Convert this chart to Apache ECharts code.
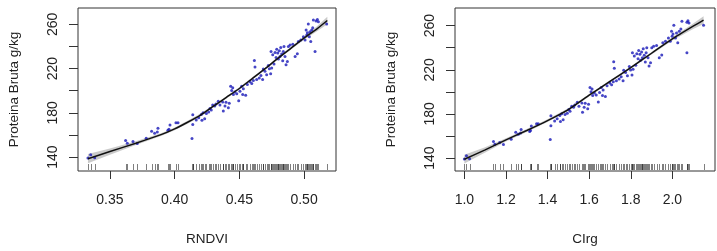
<!DOCTYPE html>
<html lang="pt">
<head>
  <meta charset="UTF-8">
  <title>Proteina Bruta vs RNDVI / CIrg</title>
  <style>
    html, body { margin: 0; padding: 0; background: #fff; }
    #chart { width: 717px; height: 251px; }
  </style>
  <script src="https://cdn.jsdelivr.net/npm/echarts@6/dist/echarts.min.js"></script>
</head>
<body>
<div id="chart"></div>
<script>
  // proteína bruta (g/kg) - mesmas amostras nos dois painéis
  const pb = [139.1,142.1,139.4,155.0,152.6,154.1,152.3,157.0,163.3,161.5,
    166.0,162.7,164.2,169.0,165.1,171.1,171.1,178.3,169.4,156.8,
    173.5,175.6,178.6,180.1,173.2,174.7,179.5,180.7,182.5,186.1,
    184.0,187.0,188.1,190.5,187.0,189.9,181.6,186.1,189.6,184.6,
    188.7,204.0,200.1,202.6,196.6,198.9,197.2,190.9,199.5,204.0,
    201.7,195.9,196.6,205.6,208.0,206.5,209.2,227.4,221.5,210.1,
    211.6,213.7,210.1,219.7,217.5,214.5,222.9,219.9,215.4,220.5,
    235.4,232.5,224.1,234.5,230.0,237.6,234.0,228.6,236.1,231.0,
    239.1,233.1,227.1,235.4,239.9,231.0,223.5,226.5,239.9,241.4,
    242.1,231.0,233.4,244.4,245.9,248.9,245.9,254.9,250.4,252.5,
    260.3,248.9,253.4,244.4,254.9,257.0,263.9,235.4,263.0,264.5,
    262.4,260.3]
  const rndvi = [0.3330,0.3351,0.3382,0.3621,0.3634,0.3678,0.3711,0.3780,0.3822,0.3845,
    0.3871,0.3866,0.3948,0.3964,0.3956,0.4010,0.4026,0.4140,0.4140,0.4134,
    0.4167,0.4186,0.4206,0.4220,0.4211,0.4232,0.4245,0.4263,0.4283,0.4310,
    0.4273,0.4294,0.4319,0.4337,0.4350,0.4371,0.4376,0.4389,0.4397,0.4415,
    0.4422,0.4433,0.4441,0.4449,0.4454,0.4466,0.4480,0.4495,0.4505,0.4518,
    0.4531,0.4549,0.4526,0.4562,0.4582,0.4596,0.4608,0.4616,0.4621,0.4634,
    0.4654,0.4667,0.4680,0.4685,0.4698,0.4711,0.4724,0.4732,0.4742,0.4750,
    0.4745,0.4758,0.4768,0.4776,0.4784,0.4789,0.4797,0.4802,0.4809,0.4814,
    0.4820,0.4827,0.4835,0.4840,0.4845,0.4853,0.4861,0.4871,0.4879,0.4892,
    0.4913,0.4931,0.4948,0.4956,0.4975,0.4995,0.5008,0.5016,0.5021,0.5026,
    0.5033,0.5041,0.5046,0.5052,0.5059,0.5067,0.5072,0.5085,0.5093,0.5103,
    0.5111,0.5175]
  const cirg = [1.000,1.010,1.025,1.140,1.147,1.170,1.188,1.225,1.247,1.259,
    1.273,1.270,1.314,1.322,1.318,1.347,1.355,1.416,1.416,1.413,
    1.434,1.446,1.459,1.468,1.462,1.475,1.484,1.495,1.508,1.525,
    1.502,1.516,1.531,1.543,1.551,1.565,1.568,1.576,1.581,1.593,
    1.597,1.604,1.609,1.614,1.617,1.625,1.634,1.644,1.650,1.658,
    1.667,1.678,1.664,1.686,1.699,1.708,1.716,1.718,1.721,1.731,
    1.744,1.754,1.763,1.766,1.775,1.784,1.793,1.799,1.806,1.811,
    1.808,1.817,1.824,1.829,1.835,1.838,1.844,1.847,1.852,1.856,
    1.860,1.865,1.870,1.874,1.877,1.883,1.888,1.895,1.901,1.910,
    1.924,1.937,1.949,1.954,1.967,1.981,1.990,1.996,1.999,2.003,
    2.007,2.015,2.020,2.026,2.033,2.041,2.046,2.070,2.070,2.075,
    2.080,2.150]

  // curva ajustada e meia largura do intervalo de confiança
  const fitRndvi = [0.333,0.35,0.37,0.39,0.40,0.41,0.42,0.43,0.44,0.45,0.46,0.47,0.48,0.49,0.50,0.51,0.518]
  const fitPbR   = [138.5,145,152.5,160.5,165.5,171.5,178,186,194,202,211,220,229.5,238.5,247.5,256,263.5]
  const seR      = [4.2,2.8,1.7,1.3,1.3,1.4,1.3,1.1,1.1,1.1,1.1,1.1,1.1,1.2,1.5,2.3,3.3]
  const fitCirg  = [1.0,1.1,1.2,1.3,1.4,1.5,1.6,1.7,1.8,1.9,2.0,2.1,2.15]
  const fitPbC   = [139,147.5,156.5,165,174,184,197,209.5,222,235,248,259.5,265]
  const seC      = [4.0,2.4,1.5,1.3,1.3,1.1,1.1,1.1,1.1,1.1,1.4,2.5,3.5]

  const rndviTicks = [0.35, 0.40, 0.45, 0.50]
  const cirgTicks = [1.0, 1.2, 1.4, 1.6, 1.8, 2.0]
  const pbTicks = [140, 160, 180, 200, 220, 240, 260]
  const pbLabels = [140, 180, 220, 260]

  const font = 'Liberation Sans, Arial, sans-serif'
  const ink = '#222'

  function xAxisOf(idx, min, max, ticks, digits, name) {
    return {
      type: 'value', gridIndex: idx, min: min, max: max,
      splitLine: { show: false },
      axisLine: { show: false },
      axisTick: { show: true, length: 8, customValues: ticks, lineStyle: { color: '#333' } },
      axisLabel: {
        customValues: ticks, margin: 22, fontSize: 14, fontFamily: font, color: ink,
        formatter: v => v.toFixed(digits)
      },
      name: name, nameLocation: 'middle', nameGap: 61,
      nameTextStyle: { fontSize: 13.5, fontFamily: font, color: ink }
    }
  }
  function yAxisOf(idx, min, max) {
    return {
      type: 'value', gridIndex: idx, min: min, max: max,
      splitLine: { show: false },
      axisLine: { show: false },
      axisTick: { show: true, length: 9, customValues: pbTicks, lineStyle: { color: '#333' } },
      axisLabel: {
        customValues: pbLabels, rotate: 90, margin: 18, fontSize: 14, fontFamily: font, color: ink
      },
      name: 'Proteina Bruta g/kg', nameLocation: 'middle', nameGap: 57,
      nameTextStyle: { fontSize: 13.5, fontFamily: font, color: ink }
    }
  }

  // rug: tracinhos no fundo do painel, um por amostra
  function rugItem(params, api) {
    const x = Math.round(api.coord([api.value(0), 0])[0]) + 0.5
    const y = params.coordSys.y + params.coordSys.height
    return {
      type: 'line',
      shape: { x1: x, y1: y - 1, x2: x, y2: y - 7 },
      style: { stroke: 'rgba(0,0,0,0.5)', lineWidth: 1 }
    }
  }

  // faixa de confiança como um polígono
  function bandRender(fx, fy, se) {
    return function (params, api) {
      const up = fx.map((x, i) => api.coord([x, fy[i] + se[i]]))
      const dn = fx.map((x, i) => api.coord([x, fy[i] - se[i]])).reverse()
      return {
        type: 'polygon',
        shape: { points: up.concat(dn) },
        style: { fill: 'rgba(150,150,150,0.5)' }
      }
    }
  }

  function panelSeries(idx, xs, fx, fy, se) {
    return [
      { type: 'custom', xAxisIndex: idx, yAxisIndex: idx, renderItem: bandRender(fx, fy, se),
        data: [[fx[0], fy[0]]], silent: true, z: 1 },
      { type: 'scatter', xAxisIndex: idx, yAxisIndex: idx,
        data: xs.map((x, i) => [x, pb[i]]),
        symbol: 'circle', symbolSize: 3, itemStyle: { color: '#1818b8' }, z: 2 },
      { type: 'line', xAxisIndex: idx, yAxisIndex: idx,
        data: fx.map((x, i) => [x, fy[i]]),
        showSymbol: false, smooth: 0.2, lineStyle: { color: '#111', width: 1.5 }, z: 3 },
      { type: 'custom', xAxisIndex: idx, yAxisIndex: idx, renderItem: rugItem,
        data: xs.map(x => [x]), silent: true, z: 2 }
    ]
  }

  const chart = echarts.init(document.getElementById('chart'))
  chart.setOption({
    animation: false,
    backgroundColor: '#fff',
    grid: [
      { left: 78, top: 8, width: 258, height: 164, show: true, borderColor: '#333', borderWidth: 1 },
      { left: 455, top: 8, width: 260, height: 164, show: true, borderColor: '#333', borderWidth: 1 }
    ],
    xAxis: [
      xAxisOf(0, 0.3253, 0.5247, rndviTicks, 2, 'RNDVI'),
      xAxisOf(1, 0.955, 2.205, cirgTicks, 1, 'CIrg')
    ],
    yAxis: [
      yAxisOf(0, 127.4, 274.8),
      yAxisOf(1, 128.3, 276)
    ],
    series: [].concat(
      panelSeries(0, rndvi, fitRndvi, fitPbR, seR),
      panelSeries(1, cirg, fitCirg, fitPbC, seC)
    )
  })
</script>
</body>
</html>
